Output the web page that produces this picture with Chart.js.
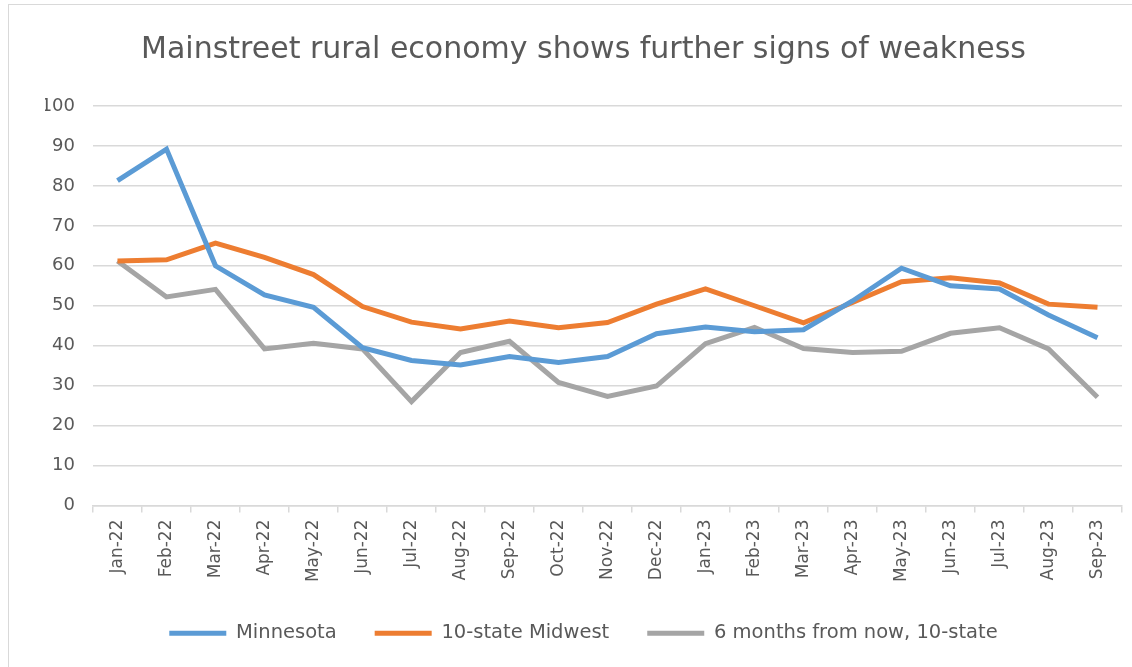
<!DOCTYPE html>
<html>
<head>
<meta charset="utf-8">
<script src="https://cdn.jsdelivr.net/npm/chart.js@4.4.0/dist/chart.umd.min.js"></script>
<style>
  body { margin: 0; background: #fff; }
  #wrap { position: absolute; left: 8px; top: 4px; width: 1124px; height: 663px;
          border-left: 1px solid #d9d9d9; border-top: 1px solid #d9d9d9; }
</style>
</head>
<body>
<div id="wrap"><canvas id="grafico" width="1123" height="662"></canvas></div>
<script>
// months shown on the category axis
const meses = ['Jan-22', 'Feb-22', 'Mar-22', 'Apr-22', 'May-22', 'Jun-22', 'Jul-22', 'Aug-22', 'Sep-22', 'Oct-22', 'Nov-22', 'Dec-22',
               'Jan-23', 'Feb-23', 'Mar-23', 'Apr-23', 'May-23', 'Jun-23', 'Jul-23', 'Aug-23', 'Sep-23'];

// index values
const minnesota = [81.3, 89.2, 60.0, 52.7, 49.6, 39.5, 36.3, 35.2, 37.3, 35.8, 37.3, 43.0,
                   44.7, 43.5, 44.0, 51.2, 59.4, 55.0, 54.2, 47.7, 42.0];
const midwest = [61.2, 61.5, 65.7, 62.1, 57.8, 49.8, 45.9, 44.2, 46.2, 44.5, 45.8, 50.4,
                 54.2, 50.0, 45.7, 50.8, 56.0, 57.0, 55.7, 50.4, 49.6];
const seisMeses = [61.2, 52.2, 54.1, 39.2, 40.6, 39.2, 26.0, 38.3, 41.1, 30.8, 27.3, 29.9,
                   40.5, 44.6, 39.3, 38.3, 38.6, 43.1, 44.5, 39.2, 27.1];

const yTicks = [0, 10, 20, 30, 40, 50, 60, 70, 80, 90, 100];

const ctx = document.getElementById('grafico').getContext('2d');
const miGrafico = new Chart(ctx, {
  type: 'line',
  data: {
    labels: meses,
    datasets: [{
      label: 'Minnesota',
      data: minnesota,
      borderColor: '#5B9BD5',
      backgroundColor: '#5B9BD5',
      borderWidth: 5,
      pointRadius: 0,
      tension: 0
    }, {
      label: '10-state Midwest',
      data: midwest,
      borderColor: '#ED7D31',
      backgroundColor: '#ED7D31',
      borderWidth: 5,
      pointRadius: 0,
      tension: 0
    }, {
      label: '6 months from now, 10-state',
      data: seisMeses,
      borderColor: '#A5A5A5',
      backgroundColor: '#A5A5A5',
      borderWidth: 5,
      pointRadius: 0,
      tension: 0
    }]
  },
  options: {
    responsive: false,
    animation: false,
    layout: { padding: { left: 36, right: 10, top: 0, bottom: 14 } },
    plugins: {
      title: {
        display: true,
        text: 'Mainstreet rural economy shows further signs of weakness',
        color: '#595959',
        font: { family: 'DejaVu Sans', size: 30, weight: 'normal' },
        padding: { top: 27, bottom: 38 }
      },
      legend: {
        position: 'bottom',
        labels: {
          color: '#595959',
          font: { family: 'DejaVu Sans', size: 19.5 },
          usePointStyle: true,
          pointStyle: 'line',
          pointStyleWidth: 57,
          padding: 38
        }
      },
      tooltip: { enabled: false }
    },
    scales: {
      x: {
        offset: true,
        afterFit: (s) => { s.height = 80; },
        grid: { offset: true, drawOnChartArea: false, drawTicks: true, tickLength: 7, color: '#d9d9d9', lineWidth: 1.5 },
        border: { color: '#d9d9d9', width: 1.5 },
        ticks: { color: '#595959', font: { family: 'DejaVu Sans', size: 17 }, minRotation: 90, maxRotation: 90, padding: 7 }
      },
      y: {
        min: 0,
        max: 100,
        afterBuildTicks: (s) => { s.ticks = yTicks.map(v => ({ value: v })); },
        afterFit: (s) => { s.width = 48; },
        grid: { color: '#d9d9d9', lineWidth: 1.5, drawTicks: false },
        border: { display: false },
        ticks: { color: '#595959', font: { family: 'DejaVu Sans', size: 18 }, padding: 18 }
      }
    }
  }
});
</script>
</body>
</html>
